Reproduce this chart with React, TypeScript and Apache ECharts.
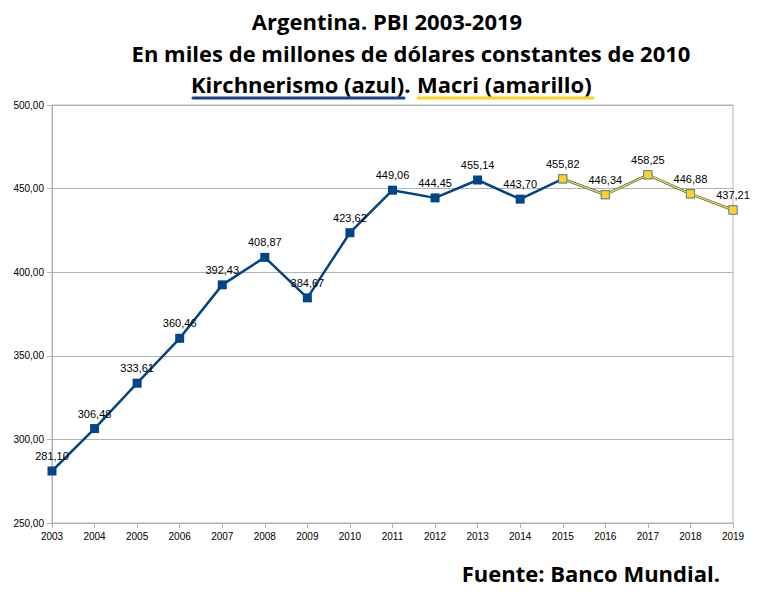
import React, { useEffect, useRef } from "react";
import * as echarts from "echarts";

const years: string[] = [
  "2003", "2004", "2005", "2006", "2007", "2008", "2009", "2010", "2011",
  "2012", "2013", "2014", "2015", "2016", "2017", "2018", "2019",
];
const pbi: number[] = [
  281.10, 306.48, 333.61, 360.46, 392.43, 408.87, 384.67, 423.62, 449.06,
  444.45, 455.14, 443.70, 455.82, 446.34, 458.25, 446.88, 437.21,
];
const macriFromYear = 2015;
const titleLines: string[] = [
  "Argentina. PBI 2003-2019",
  "En miles de millones de dólares constantes de 2010",
];
const subtitleBlue = "Kirchnerismo (azul)";
const subtitleYellow = "Macri (amarillo)";
const source = "Fuente: Banco Mundial.";

const BLUE = "#004586";
const YELLOW = "#ffd320";
const GRID = "#b3b3b3";

const fmt = (v: number) => v.toFixed(2).replace(".", ",");

export default function App() {
  const ref = useRef<HTMLDivElement>(null);
  useEffect(() => {
    if (!ref.current) return;
    const chart = echarts.init(ref.current, undefined, { renderer: "svg" });
    const macriData = pbi.map((v, i) => (Number(years[i]) >= macriFromYear ? v : null));
    const titleFont = "'Open Sans', 'Noto Sans', sans-serif";
    const tf = `bold 22px ${titleFont}`;
    chart.setOption({
      animation: false,
      backgroundColor: "#ffffff",
      grid: {
        left: 52,
        right: 27,
        top: 105,
        bottom: 76,
        show: true,
        borderColor: GRID,
        borderWidth: 1,
        containLabel: false,
      },
      xAxis: {
        type: "category",
        data: years,
        boundaryGap: false,
        axisLine: { lineStyle: { color: GRID, width: 1 } },
        axisTick: { show: true, length: 5, lineStyle: { color: GRID } },
        axisLabel: {
          color: "#000",
          fontFamily: "'Liberation Sans Narrow', 'Liberation Sans', sans-serif",
          fontSize: 10,
          margin: 8,
        },
        splitLine: { show: false },
      },
      yAxis: {
        type: "value",
        min: 250,
        max: 500,
        interval: 50,
        axisLine: { show: true, lineStyle: { color: GRID, width: 1 } },
        axisTick: { show: true, length: 5, lineStyle: { color: GRID } },
        axisLabel: {
          color: "#000",
          fontFamily: "'Liberation Sans Narrow', 'Liberation Sans', sans-serif",
          fontSize: 10,
          margin: 8,
          formatter: (v: number) => fmt(v),
        },
        splitLine: { show: true, lineStyle: { color: GRID, width: 1 } },
      },
      series: [
        {
          name: "Kirchnerismo",
          type: "line",
          data: pbi,
          symbol: "rect",
          symbolSize: 9,
          lineStyle: { color: BLUE, width: 2.5 },
          itemStyle: { color: BLUE },
          label: {
            show: true,
            position: "top",
            distance: 5,
            color: "#000",
            fontFamily: "'Liberation Sans', Arial, sans-serif",
            fontSize: 11,
            formatter: (p: any) => fmt(p.value),
          },
          z: 2,
        },
        {
          name: "Macri",
          type: "line",
          data: macriData,
          symbol: "rect",
          symbolSize: 8,
          lineStyle: { color: YELLOW, width: 1.5 },
          itemStyle: { color: YELLOW, borderColor: "#5a7fa8", borderWidth: 0.6 },
          label: { show: false },
          z: 3,
        },
      ],
      graphic: [
        {
          type: "text",
          x: 387,
          y: 21,
          style: {
            text: titleLines[0],
            fill: "#000",
            font: tf,
            textAlign: "center",
            textVerticalAlign: "middle",
          },
        },
        {
          type: "text",
          x: 411,
          y: 53,
          style: {
            text: titleLines[1],
            fill: "#000",
            font: tf,
            textAlign: "center",
            textVerticalAlign: "middle",
          },
        },
        {
          type: "text",
          x: 191,
          y: 84,
          style: {
            text: subtitleBlue + ".",
            fill: "#000",
            font: tf,
            textAlign: "left",
            textVerticalAlign: "middle",
          },
        },
        {
          type: "text",
          x: 417,
          y: 84,
          style: {
            text: subtitleYellow,
            fill: "#000",
            font: tf,
            textAlign: "left",
            textVerticalAlign: "middle",
          },
        },
        {
          type: "line",
          shape: { x1: 193, y1: 98, x2: 404, y2: 98 },
          style: { stroke: "#1f3f87", lineWidth: 3, lineCap: "round" },
        },
        {
          type: "line",
          shape: { x1: 418, y1: 98, x2: 593, y2: 98 },
          style: { stroke: YELLOW, lineWidth: 3, lineCap: "round" },
        },
        {
          type: "text",
          x: 720,
          y: 573,
          style: {
            text: source,
            fill: "#000",
            font: tf,
            textAlign: "right",
            textVerticalAlign: "middle",
          },
        },
      ],
    });
    return () => chart.dispose();
  }, []);
  return (
    <div
      ref={ref}
      style={{ position: "absolute", left: 0, top: 0, width: 760, height: 599 }}
    />
  );
}
